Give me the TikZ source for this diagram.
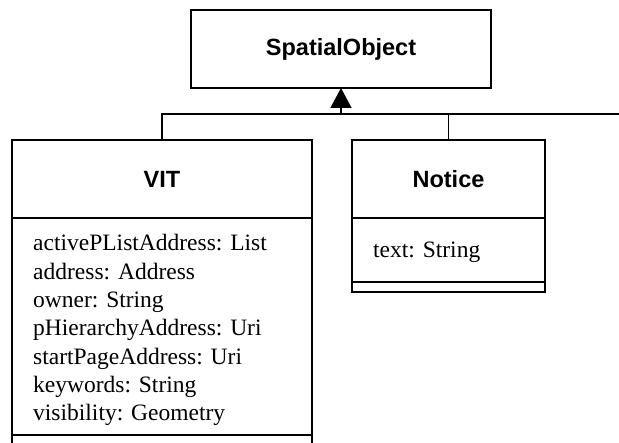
\documentclass[tikz,border=0pt]{standalone}
\usepackage{fontspec}
\setmainfont{Liberation Serif}
\setsansfont{Liberation Sans}
\usetikzlibrary{arrows.meta}
\begin{document}
\begin{tikzpicture}[x=1pt,y=-1pt,
  box/.style={draw, line width=1.8pt, inner sep=0pt, outer sep=0pt},
  title/.style={font=\sffamily\bfseries\fontsize{23.5}{28}\selectfont},
  attr/.style={font=\fontsize{23.5}{28.3}\selectfont, anchor=base west, inner sep=0pt},
  link/.style={line width=1.4pt},
  gen/.style={link, -{Triangle[width=21pt,length=20pt]}}]
\useasboundingbox (0,0) rectangle (619,443);
\clip (0,0) rectangle (619,443);

% superclass
\node[box, title, minimum width=300pt, minimum height=78pt] (so) at (341,49) {SpatialObject};

% class VIT
\node[box, title, minimum width=300pt, minimum height=78pt] (vit) at (162,179) {VIT};
\draw[box] (12,218) rectangle (312,435);
\draw[box] (12,435) rectangle (312,470);
\foreach \t [count=\i] in {activePListAddress: List, address: Address, owner: String,
  pHierarchyAddress: Uri, startPageAddress: Uri, keywords: String, visibility: Geometry}
  \node[attr] (vita\i) at (33,{251+(\i-1)*28.3}) {\t};

% class Notice
\node[box, title, minimum width=193pt, minimum height=78pt] (notice) at (448.5,179) {Notice};
\draw[box] (352,218) rectangle (545,282);
\draw[box] (352,282) rectangle (545,292);
\node[attr] (noticea1) at (373,258) {text: String};

% generalisation tree
\coordinate (j) at (341,114);
\coordinate (r) at (620,114);
\draw[link] (vit.north) |- (j);
\draw[link] (notice.north) |- (j);
\draw[link] (notice.north) |- (r);
\draw[gen] (j) -- (so.south);
\end{tikzpicture}
\end{document}
